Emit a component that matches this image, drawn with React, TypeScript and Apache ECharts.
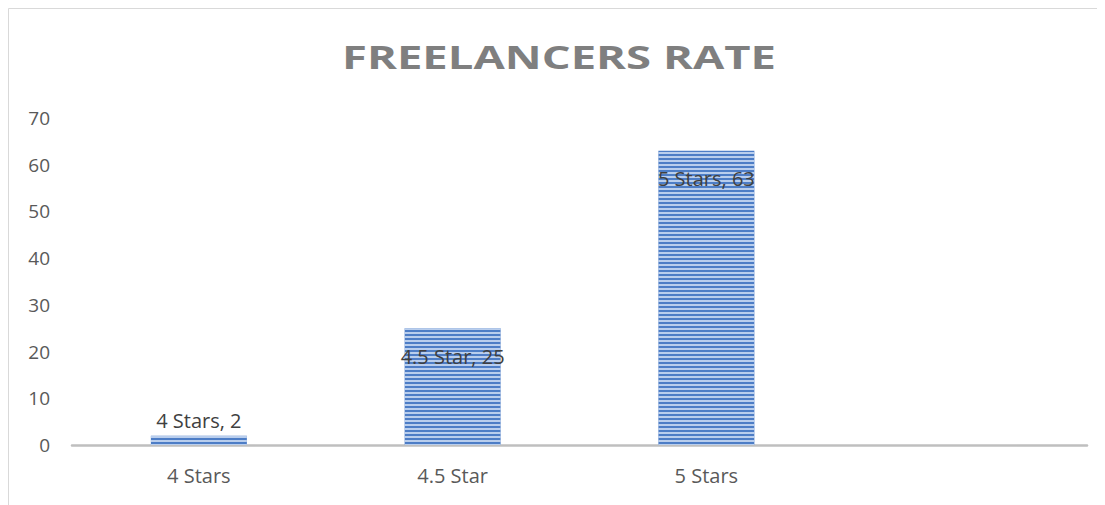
import React, { useEffect, useRef } from "react";
import * as echarts from "echarts";

const titleText = "FREELANCERS RATE";
const categories = ["4 Stars", "4.5 Star", "5 Stars", ""];
const values = [2, 25, 63, null];
const yTicks = { min: 0, max: 70, interval: 10 };

export default function App() {
  const ref = useRef<HTMLDivElement>(null);
  useEffect(() => {
    if (!ref.current) return;
    const chart = echarts.init(ref.current, null, { renderer: "svg" });
    const font = "Open Sans";
    chart.setOption({
      animation: false,
      backgroundColor: "#ffffff",
      textStyle: { fontFamily: font },
      graphic: [
        {
          type: "line",
          shape: { x1: 0.5, y1: 0.5, x2: 1097, y2: 0.5 },
          style: { stroke: "#d9d9d9", lineWidth: 1 },
        },
        {
          type: "line",
          shape: { x1: 0.5, y1: 0.5, x2: 0.5, y2: 497 },
          style: { stroke: "#d9d9d9", lineWidth: 1 },
        },
        {
          type: "text",
          x: 551,
          y: 49,
          scaleX: 1.42,
          style: {
            text: titleText,
            fill: "#7f7f7f",
            font: `bold 32px "${font}"`,
            align: "center",
            verticalAlign: "middle",
          },
        },
      ],
      grid: { left: 64, right: 18, top: 110, bottom: 60 },
      xAxis: {
        type: "category",
        data: categories,
        axisLine: { show: true, lineStyle: { color: "#bfbfbf", width: 2.5 } },
        axisTick: { show: false },
        axisLabel: { color: "#595959", fontSize: 20, margin: 20, fontFamily: font },
        splitLine: { show: false },
      },
      yAxis: {
        type: "value",
        min: yTicks.min,
        max: yTicks.max,
        interval: yTicks.interval,
        axisLine: { show: false },
        axisTick: { show: false },
        splitLine: { show: false },
        axisLabel: { color: "#595959", fontSize: 19, margin: 22, fontFamily: font },
      },
      series: [
        {
          type: "bar",
          data: values.map((v, i) => ({
            value: v,
            label:
              i === 0
                ? { position: "top", distance: 5 }
                : { position: "insideTop", distance: 18 },
          })),
          barWidth: 96,
          itemStyle: {
            color: "#4d7dc6",
            decal: {
              symbol: "rect",
              symbolSize: 1,
              dashArrayX: [[1, 0]],
              dashArrayY: [2, 2],
              color: "rgba(205,220,243,0.85)",
              rotation: 0,
            },
          },
          label: {
            show: true,
            formatter: "{b}, {c}",
            color: "#404040",
            fontSize: 20,
            fontFamily: font,
          },
        },
      ],
    });
    return () => chart.dispose();
  }, []);
  return <div ref={ref} style={{ width: 1097, height: 497 }} />;
}
